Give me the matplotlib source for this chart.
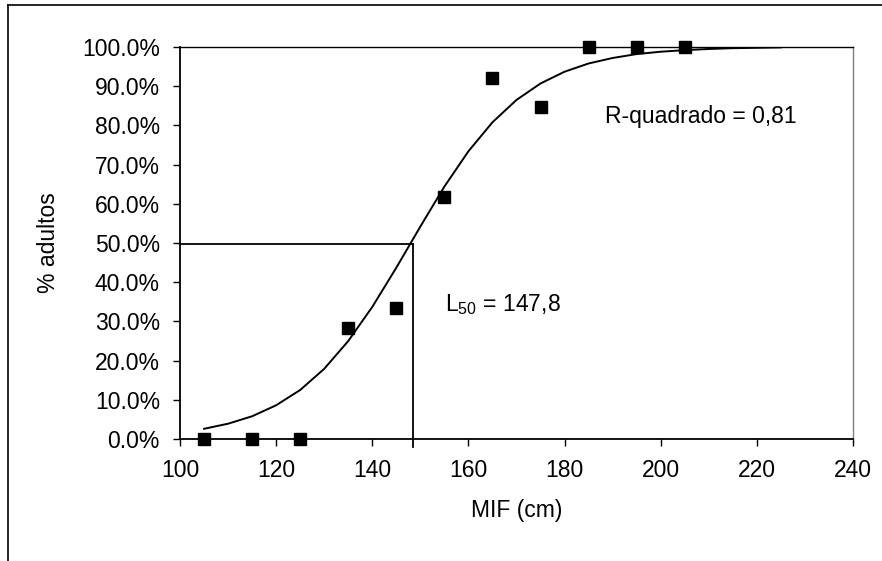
import numpy as np
import matplotlib
matplotlib.use("Agg")
import matplotlib.pyplot as plt
from matplotlib.lines import Line2D
from matplotlib.ticker import PercentFormatter

plt.rcParams['font.family'] = ['Liberation Sans', 'DejaVu Sans']
plt.rcParams['mathtext.fontset'] = 'custom'
plt.rcParams['mathtext.rm'] = 'Liberation Sans'

# observed proportion of adults per length class
mif = [105, 115, 125, 135, 145, 155, 165, 175, 185, 195, 205]
adultos = [0.0, 0.0, 0.0, 0.283, 0.334, 0.618, 0.921, 0.847, 1.0, 1.0, 1.0]

# fitted curve
curva_x = [105, 110, 115, 120, 125, 130, 135, 140, 145, 150, 155, 160, 165,
           170, 175, 180, 185, 190, 195, 200, 205, 210, 215, 220, 225]
curva_y = [0.026, 0.039, 0.058, 0.086, 0.125, 0.179, 0.250, 0.337, 0.437,
           0.542, 0.644, 0.734, 0.808, 0.865, 0.907, 0.937, 0.958, 0.972,
           0.982, 0.988, 0.992, 0.995, 0.997, 0.998, 0.999]

# L50 guide lines
l50_x = 148.4
l50_y = 0.497

fs = 16.5

fig = plt.figure(figsize=(8.82, 5.61), dpi=100)
ax = fig.add_axes([0.2041, 0.2175, 0.763, 0.6987])

ax.plot(curva_x, curva_y, color='black', lw=1.4)
ax.plot(mif, adultos, 's', color='black', markersize=8.5, clip_on=False)

ax.plot([100, l50_x], [l50_y, l50_y], color='black', lw=1.3, clip_on=False)
ax.plot([l50_x, l50_x], [-0.02, l50_y], color='black', lw=1.3, clip_on=False)

ax.set_xlim(100, 240)
ax.set_ylim(0, 1)
ax.set_xticks(np.arange(100, 241, 20))
ax.set_yticks(np.arange(0, 1.01, 0.1))
ax.yaxis.set_major_formatter(PercentFormatter(1.0, decimals=1))

ax.spines['top'].set_color('black')
ax.spines['top'].set_linewidth(1.0)
ax.spines['right'].set_color('#808080')
ax.spines['right'].set_linewidth(1.0)
for s in ['left', 'bottom']:
    ax.spines[s].set_color('black')
    ax.spines[s].set_linewidth(1.3)

ax.tick_params(direction='out', length=5, width=1, labelsize=fs, pad=9.5)
ax.set_xlabel('MIF (cm)', fontsize=fs, labelpad=12)
ax.set_ylabel('% adultos', fontsize=fs, labelpad=16)

ax.text(188.4, 0.822, 'R-quadrado = 0,81', fontsize=fs, va='center')
ax.text(155.1, 0.342, r'L$_{\mathrm{50}}$ = 147,8', fontsize=fs, va='center')

# outer chart frame (cropped: only top and left edges visible)
fig.add_artist(Line2D([8 / 882, 1.0], [1 - 5 / 561, 1 - 5 / 561],
                      color='black', lw=1.2))
fig.add_artist(Line2D([8 / 882, 8 / 882], [0.0, 1 - 5 / 561],
                      color='black', lw=1.2))

fig.savefig('out.png', dpi=100)
